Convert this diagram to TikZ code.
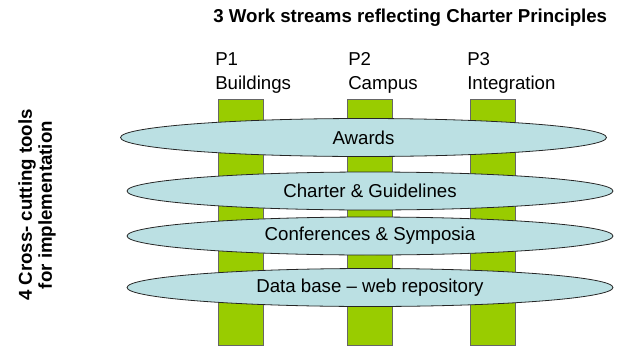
\documentclass[tikz,border=0pt]{standalone}
\usepackage{fontspec}
\setmainfont{Liberation Sans}
\usetikzlibrary{shapes.geometric}
\definecolor{barGreen}{HTML}{99CC00}
\definecolor{toolBlue}{HTML}{BBE0E3}

\begin{document}
\begin{tikzpicture}[x=0.75pt,y=-0.75pt,
    bar/.style={rectangle,draw=black!60,fill=barGreen,line width=0.6pt,minimum width=33.75pt,minimum height=184.5pt,inner sep=0pt},
    tool/.style={ellipse,draw=black!85,fill=toolBlue,line width=0.6pt,minimum width=364.5pt,minimum height=28.5pt,inner sep=0pt,font=\fontsize{14}{17}\selectfont},
    lab/.style={anchor=base west,inner sep=0pt,font=\fontsize{14}{17}\selectfont},
    head/.style={inner sep=0pt,font=\bfseries\fontsize{14}{15}\selectfont}
    ]
\useasboundingbox (0,0) rectangle (625,347);

% Work streams (vertical bars)
\node[bar] (P1bar) at (240.5,222) {};
\node[bar] (P2bar) at (370,222) {};
\node[bar] (P3bar) at (493,222) {};

% Cross-cutting tools (ellipses)
\node[tool] (awards) at (363.5,137.5) {Awards};
\node[tool] (charter) at (370,191) {Charter \& Guidelines};
\node[tool] (confs) at (370,236) {Conferences \& Symposia};
\node[tool] (database) at (370,287.5) {Data base -- web repository};

% Stream labels
\node[lab] (P1num) at (215,65) {P1};
\node[lab] (P1name) at (215,89) {Buildings};
\node[lab] (P2num) at (348,65) {P2};
\node[lab] (P2name) at (348,89) {Campus};
\node[lab] (P3num) at (467,65) {P3};
\node[lab] (P3name) at (467,89) {Integration};

% Headings
\node[head,anchor=base west] (streams) at (213,22) {3 Work streams reflecting Charter Principles};
\node[head,rotate=90,align=center] (tools) at (37,205) {4 Cross- cutting tools\\for implementation};

\end{tikzpicture}
\end{document}
